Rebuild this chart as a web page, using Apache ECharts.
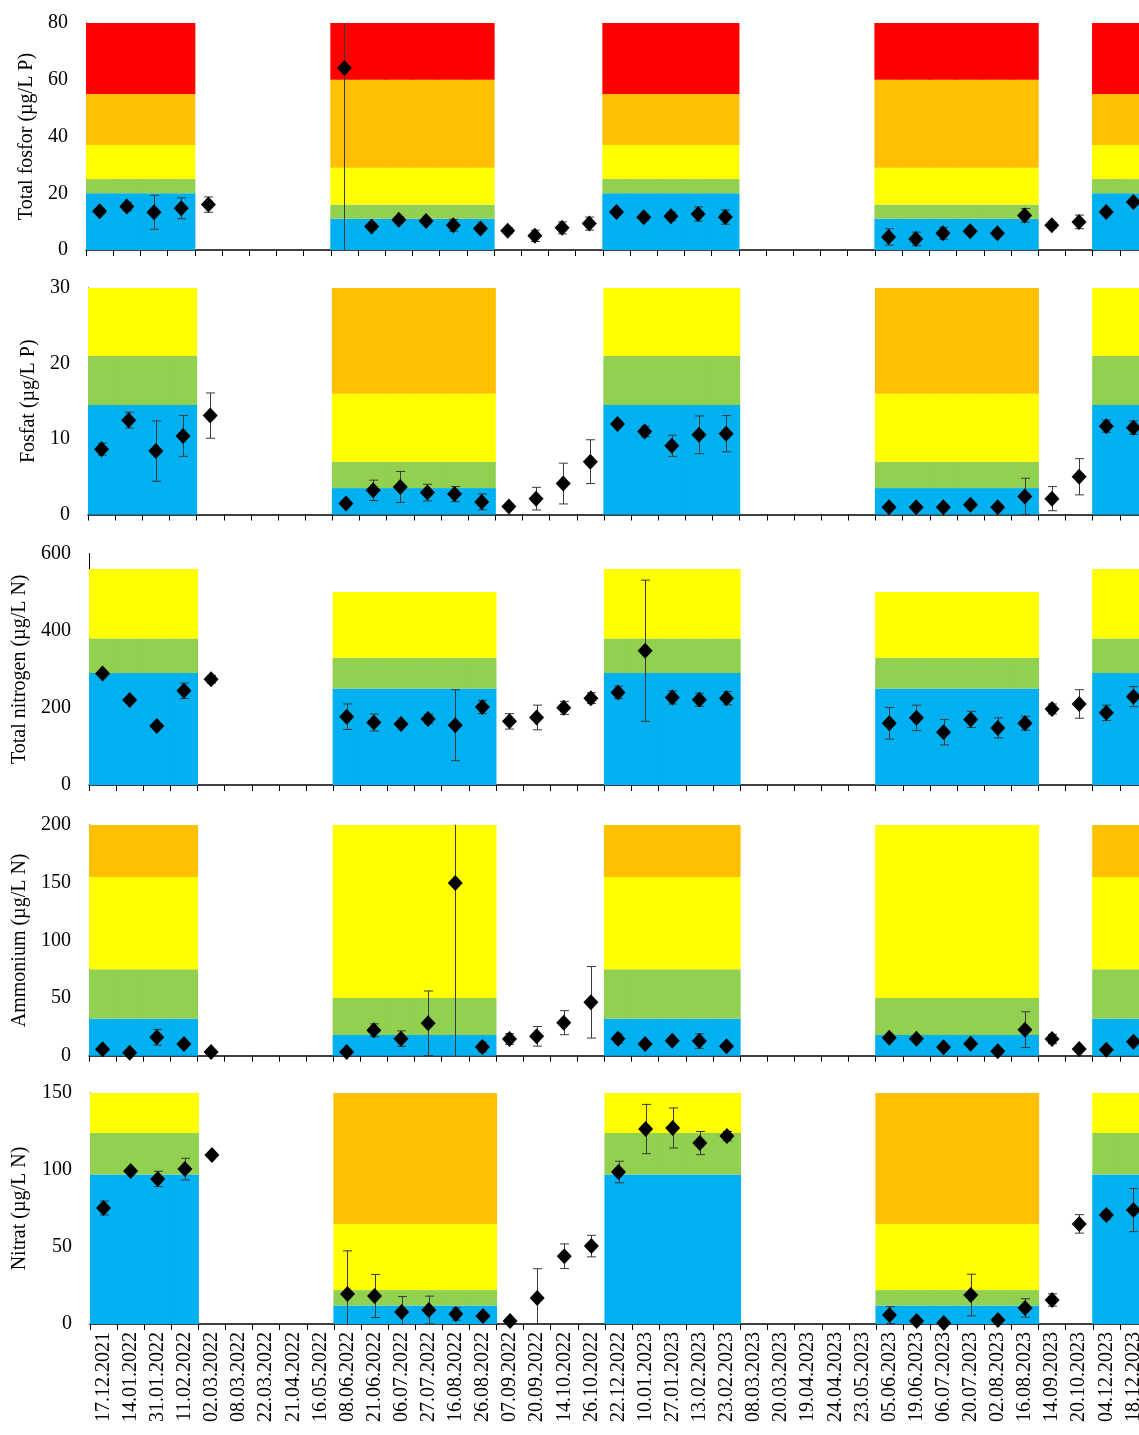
<!DOCTYPE html>
<html>
<head>
<meta charset="utf-8">
<script src="https://cdn.jsdelivr.net/npm/echarts@6/dist/echarts.min.js"></script>
<style>
  html, body { margin: 0; padding: 0; background: #fff; }
  #chart { width: 1139px; height: 1435px; }
</style>
</head>
<body>
<div id="chart"></div>
<script>
// Sampling dates (category axis, shared by all five panels)
const dates = ['17.12.2021','14.01.2022','31.01.2022','11.02.2022','02.03.2022','08.03.2022','22.03.2022','21.04.2022','16.05.2022',
  '08.06.2022','21.06.2022','06.07.2022','27.07.2022','16.08.2022','26.08.2022','07.09.2022','20.09.2022','14.10.2022','26.10.2022',
  '22.12.2022','10.01.2023','27.01.2023','13.02.2023','23.02.2023','08.03.2023','20.03.2023','19.04.2023','24.04.2023','23.05.2023',
  '05.06.2023','19.06.2023','06.07.2023','20.07.2023','02.08.2023','16.08.2023','14.09.2023','20.10.2023','04.12.2023','18.12.2023'];

// Which set of class limits applies at each date: W = winter, S = summer, '' = none
const seasons = ['W','W','W','W','','','','','',
  'S','S','S','S','S','S','','','','',
  'W','W','W','W','W','','','','','',
  'S','S','S','S','S','S','','','W','W'];

// Class colours: very good, good, moderate, poor, very poor
const classColors = ['#00B0F0', '#92D050', '#FFFF00', '#FFC000', '#FF0000'];

// Upper class limits per season
const totPLimits = { W: [20, 25, 37, 55, 80], S: [11, 16, 29, 60, 80] };
const po4Limits  = { W: [14.5, 21, 30],       S: [3.5, 7, 16, 30] };
const totNLimits = { W: [290, 380, 560],      S: [250, 330, 500] };
const nh4Limits  = { W: [32, 75, 155, 200],   S: [18, 50, 200] };
const no3Limits  = { W: [97, 124, 150],       S: [12, 22, 65, 150] };

// Measured means and standard deviations
const totP = [13.7, 15.3, 13.3, 14.7, 16.0, null, null, null, null,
  64.1, 8.3, 10.7, 10.2, 8.7, 7.6, 6.8, 5.0, 7.8, 9.3,
  13.4, 11.5, 11.9, 12.7, 11.6, null, null, null, null, null,
  4.6, 3.9, 5.9, 6.6, 5.9, 12.2, 8.7, 9.9, 13.4, 16.9];
const totPErr = [1, 1.5, 6, 3.7, 2.7, null, null, null, null,
  70, 1, 1, 1, 2.1, 1, 1, 2, 2.1, 2.3,
  1, 1, 1.5, 2.5, 2.5, null, null, null, null, null,
  2.9, 2.4, 2.1, 1, 1, 2.4, 1, 2.4, 1, 1];

const po4 = [8.65, 12.5, 8.4, 10.4, 13.1, null, null, null, null,
  1.45, 3.2, 3.65, 2.9, 2.7, 1.67, 1.06, 2.1, 4.1, 7.0,
  12.0, 11.0, 9.1, 10.55, 10.7, null, null, null, null, null,
  0.97, 0.97, 0.97, 1.3, 0.97, 2.4, 2.1, 5.0, 11.7, 11.5];
const po4Err = [0.8, 1.05, 4, 2.7, 3, null, null, null, null,
  0.3, 1.35, 2.05, 1.1, 1, 1.05, 0.3, 1.5, 2.7, 2.9,
  0.3, 0.7, 1.4, 2.5, 2.4, null, null, null, null, null,
  0.3, 0.3, 0.3, 0.3, 0.3, 2.4, 1.6, 2.4, 0.8, 0.9];

const totN = [289, 220, 153, 244, 274, null, null, null, null,
  177, 162, 158, 171, 155, 202, 165, 175, 200, 225,
  240, 348, 227, 221, 225, null, null, null, null, null,
  160, 174, 137, 170, 148, 160, 197, 210, 187, 229];
const totNErr = [5, 5, 5, 20, 10, null, null, null, null,
  33, 22, 5, 12, 92, 17, 20, 32, 17, 14,
  16, 183, 17, 17, 17, null, null, null, null, null,
  41, 33, 33, 21, 26, 18, 13, 37, 20, 26];

const nh4 = [5.5, 2.6, 16, 10.1, 3.2, null, null, null, null,
  3.2, 22, 14.8, 28.1, 149.7, 7.5, 14.5, 16.8, 28.6, 46.3,
  14.8, 10.1, 13, 12.7, 8.1, null, null, null, null, null,
  15.6, 14.8, 7.3, 10.4, 3.8, 22.6, 14.5, 5.8, 5.2, 12.2];
const nh4Err = [1, 1, 6.8, 1, 1, null, null, null, null,
  1, 5.6, 6.7, 28, 160, 4.2, 4.6, 8.5, 10.4, 31,
  4, 1, 1, 6.3, 1, null, null, null, null, null,
  1, 1, 1, 1, 1, 15.5, 4, 1, 1, 1];

const no3 = [75.3, 99.4, 94.2, 100.6, 109.7, null, null, null, null,
  19.5, 18.2, 7.8, 9.1, 6.5, 5.2, 2, 16.9, 44, 50.6,
  98.7, 126.6, 127.3, 117.5, 122, null, null, null, null, null,
  5.8, 2, 0.6, 18.8, 2.6, 10.4, 15.6, 65, 70.8, 74];
const no3Err = [4.5, 1, 5, 7, 1, null, null, null, null,
  28, 14, 10, 9, 4, 1, 1, 19, 8, 7,
  7, 16, 13, 7.5, 3, null, null, null, null, null,
  5.5, 1, 1, 13.5, 1, 6, 4, 6, 2.7, 14];

// Panel definitions: axis title, y range, tick step, limits, data
const panels = [
  { name: 'Total fosfor (µg/L P)',   max: 80,  step: 20,  limits: totPLimits, values: totP, errors: totPErr },
  { name: 'Fosfat (µg/L P)',         max: 30,  step: 10,  limits: po4Limits,  values: po4,  errors: po4Err },
  { name: 'Total nitrogen (µg/L N)', max: 600, step: 200, limits: totNLimits, values: totN, errors: totNErr },
  { name: 'Ammonium (µg/L N)',       max: 200, step: 50,  limits: nh4Limits,  values: nh4,  errors: nh4Err },
  { name: 'Nitrat (µg/L N)',         max: 150, step: 50,  limits: no3Limits,  values: no3,  errors: no3Err }
];

// Layout of the stacked plot areas; they run a little past the right edge of the page
const PLOT_RIGHT = 1147;
const layout = [
  { left: 86, top: 23,    height: 227,   gap: 48 },
  { left: 88, top: 288,   height: 226.5, gap: 48 },
  { left: 89, top: 553.5, height: 231.5, gap: 58 },
  { left: 89, top: 825,   height: 230.7, gap: 59 },
  { left: 90, top: 1093,  height: 231,   gap: 60 }
];

const FONT = '"Liberation Serif", "Times New Roman", serif';

const grid = [], xAxis = [], yAxis = [], series = [];

panels.forEach(function (p, i) {
  const L = layout[i];
  grid.push({
    left: L.left, width: PLOT_RIGHT - L.left, top: L.top, height: L.height,
    containLabel: false, outerBoundsMode: 'none'
  });
  const last = i === panels.length - 1;
  xAxis.push({
    type: 'category', gridIndex: i, data: dates,
    boundaryGap: true,
    axisLine: { show: true, lineStyle: { color: '#000', width: 1.5 } },
    axisTick: { show: true, interval: 0, length: 6, lineStyle: { color: '#000', width: 1 } },
    axisLabel: {
      show: last, interval: 0, rotate: 90, margin: 8,
      fontFamily: FONT, fontSize: 20, color: '#000'
    },
    splitLine: { show: false }
  });
  yAxis.push({
    type: 'value', gridIndex: i, min: 0, max: p.max, interval: p.step,
    name: p.name, nameLocation: 'middle', nameGap: L.gap,
    nameTextStyle: { fontFamily: FONT, fontSize: 20, color: '#000' },
    axisLine: { show: true, lineStyle: { color: '#000', width: 1 } },
    axisTick: { show: false },
    axisLabel: { fontFamily: FONT, fontSize: 20, color: '#000', margin: 18 },
    splitLine: { show: false }
  });

  // Class bands as stacked bars (slightly widened so neighbours overlap without seams)
  for (let k = 0; k < classColors.length; k++) {
    const data = seasons.map(function (s) {
      if (!s) return '-';
      const lim = p.limits[s];
      if (k >= lim.length) return '-';
      return lim[k] - (k > 0 ? lim[k - 1] : 0);
    });
    series.push({
      type: 'bar', xAxisIndex: i, yAxisIndex: i, stack: 'cls' + i,
      data: data, barWidth: '104%', barGap: '-100%',
      itemStyle: { color: classColors[k] },
      silent: true, z: 1
    });
  }

  // Error bars (mean ± standard deviation), clipped to the plot range
  const errData = [];
  p.values.forEach(function (v, j) {
    if (v != null) errData.push([j, v, p.errors[j] || 0]);
  });
  series.push({
    type: 'custom', xAxisIndex: i, yAxisIndex: i, data: errData, z: 3, silent: true,
    renderItem: function (params, api) {
      const x = api.value(0), v = api.value(1), e = api.value(2);
      const hiRaw = v + e, loRaw = v - e;
      const hi = Math.min(hiRaw, p.max), lo = Math.max(loRaw, 0);
      const top = api.coord([x, hi]), bot = api.coord([x, lo]);
      const style = { stroke: '#3a3a3a', lineWidth: 1 };
      const cx = Math.round(top[0]) + 0.5;
      const children = [{ type: 'line', shape: { x1: cx, y1: top[1], x2: cx, y2: bot[1] }, style: style }];
      const half = 4.5;
      if (hiRaw <= p.max) children.push({ type: 'line', shape: { x1: cx - half, y1: top[1], x2: cx + half, y2: top[1] }, style: style });
      if (loRaw >= 0) children.push({ type: 'line', shape: { x1: cx - half, y1: bot[1], x2: cx + half, y2: bot[1] }, style: style });
      return { type: 'group', children: children };
    }
  });

  // Mean values as diamonds
  series.push({
    type: 'scatter', xAxisIndex: i, yAxisIndex: i,
    data: p.values.map(function (v) { return v == null ? '-' : v; }),
    symbol: 'diamond', symbolSize: [15, 16],
    itemStyle: { color: '#000', opacity: 1 }, z: 4, silent: true
  });
});

const chart = echarts.init(document.getElementById('chart'), null, { renderer: 'canvas' });
chart.setOption({
  animation: false,
  backgroundColor: '#fff',
  grid: grid, xAxis: xAxis, yAxis: yAxis, series: series
});
</script>
</body>
</html>
